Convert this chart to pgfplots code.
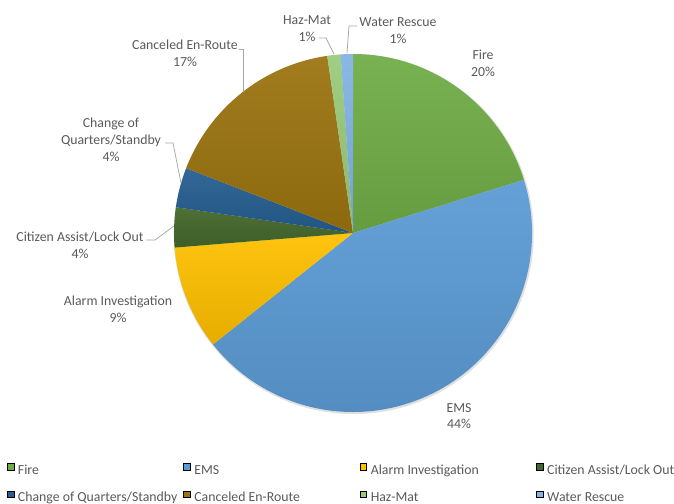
\documentclass[border=0pt]{standalone}
\usepackage{fontspec}
\setmainfont{Carlito}
\usepackage{pgfplots}
\pgfplotsset{compat=1.18}
\definecolor{cFire}{HTML}{70AD47}
\definecolor{cEMS}{HTML}{5B9BD5}
\definecolor{cAlarm}{HTML}{FFC000}
\definecolor{cCitizen}{HTML}{43682B}
\definecolor{cChange}{HTML}{255E91}
\definecolor{cCancel}{HTML}{9C7410}
\definecolor{cHaz}{HTML}{9ACB7A}
\definecolor{cWater}{HTML}{82B4E4}
\definecolor{txt}{HTML}{595959}
\definecolor{lead}{HTML}{A6A6A6}
% shares of all calls, percent
\def\vFire{20.2}
\def\vEMS{44.1}
\def\vAlarm{9.4}
\def\vCitizen{3.6}
\def\vChange{3.6}
\def\vCancel{16.8}
\def\vHaz{1.2}
\def\vWater{1.1}
\pgfmathsetmacro\aA{90}
\pgfmathsetmacro\aB{\aA-3.6*\vFire}
\pgfmathsetmacro\aC{\aB-3.6*\vEMS}
\pgfmathsetmacro\aD{\aC-3.6*\vAlarm}
\pgfmathsetmacro\aE{\aD-3.6*\vCitizen}
\pgfmathsetmacro\aF{\aE-3.6*\vChange}
\pgfmathsetmacro\aG{\aF-3.6*\vCancel}
\pgfmathsetmacro\aH{\aG-3.6*\vHaz}
\pgfmathsetmacro\aI{\aH-3.6*\vWater}
\newcommand\lfont{\fontsize{13.8bp}{16.8bp}\selectfont}
\newcommand\pieslice[3]{\shade[top color=#1!94!white, bottom color=#1!90!black] (axis cs:0,0) -- ++(#2:179bp) arc[start angle=#2, end angle=#3, radius=179bp] -- cycle;}
\newcommand\lent[1]{\makebox[164bp][l]{\hspace*{4bp}#1}}
\begin{document}
\begin{tikzpicture}
\begin{axis}[at={(353bp,-233bp)}, anchor=center, scale only axis,
  width=358bp, height=358bp, xmin=-1, xmax=1, ymin=-1, ymax=1,
  hide axis, clip=false, legend columns=4, legend cell align=left,
  legend image code/.code={\fill[#1] (0bp,1.2bp) rectangle (6.6bp,7.8bp);},
  legend style={draw=none, fill=none, inner sep=0pt, outer sep=0pt,
    at={(-0.4665,-0.1426)}, anchor=north west, font=\lfont, text=txt,
    row sep=13bp,
    /tikz/every even column/.append style={column sep=5.4bp},
    nodes={inner sep=0pt, text height=9.5bp, text depth=3.5bp}}]
\addlegendimage{fill=cFire}\addlegendentry{\lent{Fire}}
\addlegendimage{fill=cEMS}\addlegendentry{\lent{EMS}}
\addlegendimage{fill=cAlarm}\addlegendentry{\lent{Alarm Investigation}}
\addlegendimage{fill=cCitizen}\addlegendentry{\hspace*{4bp}Citizen Assist/Lock Out}
\addlegendimage{fill=cChange}\addlegendentry{\lent{Change of Quarters/Standby}}
\addlegendimage{fill=cCancel}\addlegendentry{\lent{Canceled En-Route}}
\addlegendimage{fill=cHaz}\addlegendentry{\lent{Haz-Mat}}
\addlegendimage{fill=cWater}\addlegendentry{\hspace*{4bp}Water Rescue}
\fill[black!12] (axis cs:0.004,-0.006) circle[radius=180bp];
\pieslice{cFire}{\aA}{\aB}
\pieslice{cEMS}{\aB}{\aC}
\pieslice{cAlarm}{\aC}{\aD}
\pieslice{cCitizen}{\aD}{\aE}
\pieslice{cChange}{\aE}{\aF}
\pieslice{cCancel}{\aF}{\aG}
\pieslice{cHaz}{\aG}{\aH}
\pieslice{cWater}{\aH}{\aI}
\end{axis}
\begin{scope}[x=1bp,y=-1bp, every node/.style={font=\lfont, text=txt, align=center, inner sep=0pt}]
\draw[lead, line width=0.75bp] (319,38) -- (326,38) -- (334,54);
\draw[lead, line width=0.75bp] (357,26) -- (349,26) -- (347,53);
\draw[lead, line width=0.75bp] (239,49) -- (243,49) -- (243,92);
\draw[lead, line width=0.75bp] (165,143) -- (173,143) -- (181,183);
\draw[lead, line width=0.75bp] (146,240) -- (155,240) -- (174,226);
\node at (483,63.5) {Fire\\20\%};
\node at (459,416) {EMS\\44\%};
\node at (118,309) {Alarm Investigation\\9\%};
\node at (80,245.5) {Citizen Assist/Lock Out\\4\%};
\node at (111,140) {Change of\\Quarters/Standby\\4\%};
\node at (185,53.5) {Canceled En-Route\\17\%};
\node at (307,29) {Haz-Mat\\1\%};
\node at (398,30.5) {Water Rescue\\1\%};
\end{scope}
\pgfresetboundingbox
\path[use as bounding box, x=1bp, y=-1bp] (0,0) rectangle (674,504);
\end{tikzpicture}
\end{document}
